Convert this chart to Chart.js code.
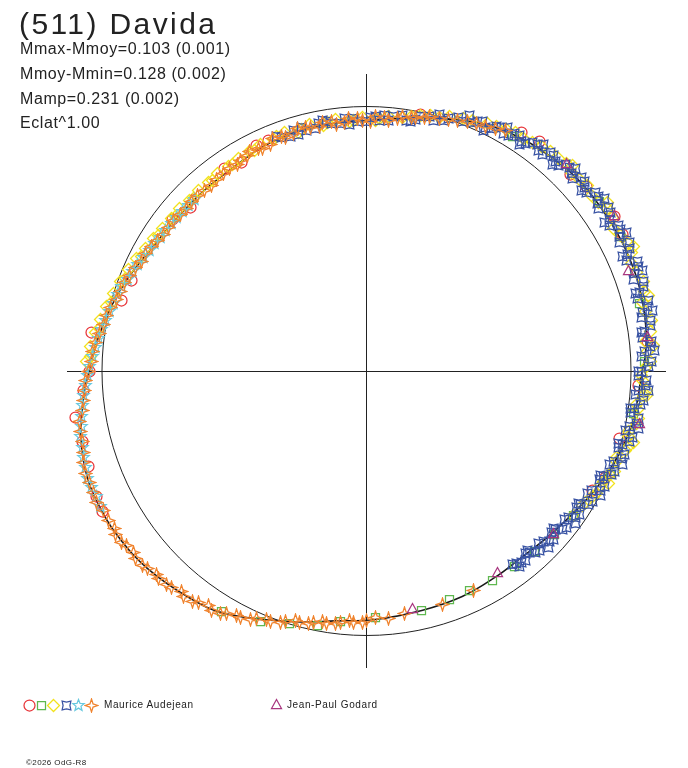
<!DOCTYPE html>
<html lang="en">
<head>
  <meta charset="UTF-8" />
  <title>(511) Davida</title>
  <script src="https://cdn.jsdelivr.net/npm/chart.js"></script>
  <style>
    body { margin: 0; background: #fff; color: #222; font-family: "Liberation Sans", Arial, sans-serif; }
    #wrap { position: relative; width: 688px; height: 768px; overflow: hidden; }
    #plot { position: absolute; left: 0; top: 0; }
    .title { position: absolute; left: 19px; top: 9px; font-size: 30px; line-height: 30px; letter-spacing: 2.4px; white-space: nowrap; }
    .info { position: absolute; left: 20px; font-size: 16px; line-height: 16px; letter-spacing: 0.6px; white-space: nowrap; }
    .lbl { position: absolute; top: 700px; font-size: 10px; line-height: 10px; letter-spacing: 0.6px; white-space: nowrap; }
    .mk { position: absolute; }
    .copy { position: absolute; left: 26px; top: 759px; font-size: 8px; line-height: 8px; letter-spacing: 0.4px; white-space: nowrap; }
  </style>
</head>
<body>
  <div id="wrap">
    <canvas id="plot" width="688" height="768"></canvas>
    <div class="title">(511) Davida</div>
    <div class="info" style="top:41px">Mmax-Mmoy=0.103 (0.001)</div>
    <div class="info" style="top:66px">Mmoy-Mmin=0.128 (0.002)</div>
    <div class="info" style="top:91px">Mamp=0.231 (0.002)</div>
    <div class="info" style="top:115px">Eclat^1.00</div>
    <div class="lbl" style="left:104px">Maurice Audejean</div>
    <div class="lbl" style="left:287px">Jean-Paul Godard</div>
    <div class="copy">©2026 OdG-R8</div>
  </div>

  <script>
    // phase in degrees, clockwise from the top; radius relative to the mean circle
    const refRadius = 1;

    const fitPhase = [0, 5, 20, 31, 43, 52, 62, 70, 76, 82, 87, 90, 100, 108, 116, 123, 132, 141, 148, 157, 167, 178, 187, 196, 210, 218, 228, 236, 242, 249, 257, 265, 270, 277, 284, 291, 300, 309, 318, 327, 336, 345, 352];
    const fitRadius = [0.947, 0.957, 1.011, 1.050, 1.072, 1.080, 1.082, 1.081, 1.076, 1.068, 1.055, 1.042, 1.026, 1.006, 0.979, 0.954, 0.930, 0.916, 0.919, 0.926, 0.929, 0.940, 0.952, 0.986, 1.060, 1.088, 1.115, 1.128, 1.132, 1.130, 1.108, 1.073, 1.049, 1.022, 0.996, 0.969, 0.935, 0.921, 0.918, 0.920, 0.935, 0.943, 0.945];

    const redPhase = [12, 33, 37, 46, 50, 58, 62, 84, 93, 105, 114, 118, 242, 245, 251, 256, 261, 266, 270, 278, 286, 291, 308, 313, 325, 329, 334, 337];
    const redRadius = [0.990, 1.073, 1.085, 1.071, 1.086, 1.105, 1.097, 1.070, 1.028, 0.990, 0.990, 0.966, 1.130, 1.125, 1.111, 1.105, 1.113, 1.071, 1.049, 1.051, 0.965, 0.950, 0.930, 0.908, 0.933, 0.918, 0.948, 0.945];

    const greenPhase = [32, 54, 62, 76, 88, 99, 113, 125, 131, 137, 143, 149, 155, 160, 167, 178, 186, 191, 197, 203, 211];
    const greenRadius = [1.045, 1.088, 1.087, 1.062, 1.050, 1.021, 1.002, 0.955, 0.942, 0.932, 0.927, 0.924, 0.917, 0.919, 0.929, 0.934, 0.954, 0.979, 0.998, 1.029, 1.062];

    const yellowPhase = [272, 275, 278, 281, 284, 287, 290, 293, 296, 299, 302, 305, 308, 311, 314, 317, 320, 323, 326, 329, 332, 335, 338, 341, 344, 347, 350, 353, 356, 359, 2, 5, 8, 12, 16, 21, 26, 30, 34, 38, 42, 46, 50, 54, 58, 62, 66, 70, 74, 78, 82, 86, 89, 92, 95, 98, 101, 104, 107, 110, 113, 116, 119, 122, 125,
      273, 279, 285, 291, 297, 303, 309, 315, 321, 327, 333, 339, 345, 351, 357, 3, 10, 14, 18, 23, 28, 32, 36, 40, 44, 48, 52, 56, 60, 64, 68, 72, 76, 80, 84, 88, 91, 94, 97, 100, 103, 106, 109, 112, 115, 118, 121,
      45, 55, 65, 75, 85, 95, 105, 115];
    const yellowRadius = [1.060, 1.048, 1.036, 1.026, 1.012, 1.000, 0.988, 0.978, 0.966, 0.956, 0.948, 0.942, 0.935, 0.936, 0.930, 0.934, 0.930, 0.935, 0.932, 0.938, 0.942, 0.945, 0.942, 0.952, 0.938, 0.955, 0.942, 0.958, 0.945, 0.960, 0.948, 0.965, 0.968, 0.988, 0.998, 1.022, 1.040, 1.055, 1.062, 1.075, 1.082, 1.078, 1.092, 1.085, 1.095, 1.088, 1.098, 1.085, 1.092, 1.080, 1.085, 1.065, 1.060, 1.045, 1.050, 1.035, 1.038, 1.020, 1.022, 1.005, 1.000, 0.985, 0.975, 0.962, 0.955,
      1.045, 1.022, 0.998, 0.975, 0.955, 0.938, 0.928, 0.924, 0.925, 0.930, 0.935, 0.950, 0.945, 0.950, 0.950, 0.955, 0.978, 0.995, 1.012, 1.030, 1.045, 1.062, 1.070, 1.085, 1.090, 1.082, 1.078, 1.100, 1.080, 1.102, 1.082, 1.100, 1.075, 1.095, 1.060, 1.075, 1.040, 1.060, 1.030, 1.045, 1.015, 1.030, 1.000, 1.010, 0.990, 0.985, 0.965,
      1.100, 1.110, 1.112, 1.105, 1.090, 1.062, 1.045, 1.008];

    const bluePhase = [339, 342, 345, 348, 351, 354, 357, 0, 2, 5, 8, 11, 14, 17, 20, 23, 25, 27, 29, 31, 33, 35, 37, 39, 41, 43, 45, 47, 49, 51, 53, 55, 57, 59, 61, 63, 65, 67, 69, 71, 73, 75, 77, 79, 81, 83, 85, 87, 89, 91, 93, 95, 97, 99, 101, 103, 105, 107, 109, 111, 113, 115, 117, 119, 121, 123, 125, 127, 129, 131, 133, 135, 137, 139, 141, 143,
      340, 343, 346, 349, 352, 355, 358, 1, 3, 6, 9, 12, 15, 18, 21, 24, 26, 28, 30, 32, 34, 36, 38, 40, 42, 44, 46, 48, 50, 52, 54, 56, 58, 60, 62, 64, 66, 68, 70, 72, 74, 76, 78, 80, 82, 84, 86, 88, 90, 92, 94, 96, 98, 100, 102, 104, 106, 108, 110, 112, 114, 116, 118, 120, 122, 124, 126, 128, 130, 132, 134, 136, 138, 140, 142,
      344, 350, 356, 4, 10, 16, 22, 26, 30, 34, 38, 42, 46, 50, 54, 58, 62, 66, 70, 74, 78, 82, 86, 90, 94, 98, 102, 106, 110, 114, 118, 122, 126, 130, 134, 138, 142];
    const blueRadius = [0.948, 0.932, 0.952, 0.936, 0.956, 0.940, 0.955, 0.942, 0.962, 0.950, 0.975, 0.968, 0.992, 0.990, 1.018, 1.020, 1.040, 1.030, 1.052, 1.040, 1.062, 1.050, 1.072, 1.055, 1.078, 1.062, 1.088, 1.066, 1.092, 1.070, 1.096, 1.072, 1.098, 1.070, 1.100, 1.072, 1.098, 1.068, 1.100, 1.068, 1.095, 1.062, 1.092, 1.058, 1.088, 1.050, 1.078, 1.040, 1.065, 1.030, 1.055, 1.020, 1.045, 1.012, 1.038, 1.005, 1.028, 0.995, 1.018, 0.985, 1.005, 0.970, 0.992, 0.955, 0.978, 0.945, 0.965, 0.935, 0.955, 0.928, 0.945, 0.920, 0.938, 0.915, 0.930, 0.918,
      0.940, 0.950, 0.938, 0.952, 0.945, 0.958, 0.944, 0.958, 0.948, 0.968, 0.960, 0.985, 0.982, 1.005, 1.010, 1.032, 1.025, 1.048, 1.035, 1.058, 1.048, 1.068, 1.058, 1.080, 1.068, 1.085, 1.075, 1.095, 1.078, 1.098, 1.080, 1.105, 1.082, 1.102, 1.085, 1.108, 1.080, 1.105, 1.078, 1.100, 1.075, 1.098, 1.068, 1.092, 1.062, 1.085, 1.055, 1.078, 1.040, 1.060, 1.032, 1.052, 1.025, 1.045, 1.015, 1.035, 1.005, 1.025, 0.995, 1.012, 0.980, 1.000, 0.965, 0.985, 0.955, 0.972, 0.945, 0.960, 0.935, 0.952, 0.928, 0.942, 0.922, 0.935, 0.924,
      0.930, 0.960, 0.935, 0.970, 0.958, 1.008, 1.040, 1.010, 1.065, 1.035, 1.088, 1.050, 1.100, 1.060, 1.112, 1.062, 1.115, 1.060, 1.112, 1.058, 1.105, 1.048, 1.090, 1.030, 1.068, 1.008, 1.052, 0.992, 1.030, 0.968, 1.000, 0.945, 0.978, 0.925, 0.958, 0.912, 0.940];

    const cyanPhase = [243, 247, 251, 255, 259, 263, 267, 271, 275, 279, 283, 287, 291, 295, 299, 303, 307, 311, 315,
      245, 249, 253, 257, 261, 265, 269, 273, 277, 281, 285, 289, 293, 297, 301, 305, 309, 313];
    const cyanRadius = [1.130, 1.128, 1.122, 1.112, 1.098, 1.082, 1.062, 1.046, 1.030, 1.014, 0.996, 0.985, 0.968, 0.955, 0.940, 0.930, 0.925, 0.920, 0.918,
      1.125, 1.130, 1.118, 1.108, 1.090, 1.075, 1.055, 1.038, 1.022, 1.005, 0.992, 0.978, 0.962, 0.948, 0.935, 0.928, 0.922, 0.919];

    const orangePhase = [328, 331, 334, 337, 340, 343, 346, 349, 352, 355, 358, 1, 4, 7, 10, 13, 16, 20, 24, 28,
      240, 244, 248, 252, 256, 260, 264, 268, 272, 276, 280, 284, 288, 292, 296, 300, 304, 308, 312, 316, 320, 324,
      154, 162, 171, 175, 178, 181, 184, 187, 190, 193, 196, 199, 202, 205, 208, 211, 214, 217, 220, 223, 226, 229, 232, 235, 238,
      329, 332, 335, 338, 341, 344, 347, 350, 353, 356, 359, 2, 5, 8, 11, 14, 18, 22, 26, 30,
      242, 246, 250, 254, 258, 262, 266, 270, 274, 278, 282, 286, 290, 294, 298, 302, 306, 310, 314, 318, 322, 326,
      180, 183, 186, 189, 192, 195, 198, 201, 204, 207, 210, 213, 216, 219, 222, 225, 228, 231, 234, 237];
    const orangeRadius = [0.922, 0.930, 0.935, 0.932, 0.945, 0.938, 0.950, 0.940, 0.952, 0.942, 0.955, 0.945, 0.960, 0.962, 0.975, 0.982, 0.995, 1.008, 1.025, 1.040,
      1.128, 1.135, 1.128, 1.125, 1.108, 1.100, 1.075, 1.062, 1.040, 1.030, 1.008, 0.998, 0.978, 0.968, 0.948, 0.940, 0.926, 0.924, 0.916, 0.922, 0.914, 0.922,
      0.922, 0.928, 0.930, 0.940, 0.934, 0.950, 0.946, 0.962, 0.960, 0.978, 0.980, 1.004, 1.012, 1.038, 1.045, 1.070, 1.070, 1.090, 1.088, 1.106, 1.105, 1.122, 1.116, 1.130, 1.124,
      0.928, 0.940, 0.928, 0.948, 0.935, 0.952, 0.944, 0.955, 0.938, 0.958, 0.948, 0.962, 0.952, 0.972, 0.978, 0.992, 1.000, 1.018, 1.030, 1.048,
      1.125, 1.130, 1.132, 1.115, 1.105, 1.085, 1.070, 1.050, 1.038, 1.018, 1.005, 0.985, 0.975, 0.958, 0.945, 0.932, 0.925, 0.920, 0.920, 0.918, 0.920, 0.925,
      0.944, 0.952, 0.955, 0.968, 0.972, 0.985, 0.995, 1.015, 1.025, 1.048, 1.058, 1.078, 1.082, 1.098, 1.100, 1.112, 1.115, 1.125, 1.122, 1.132];

    const purplePhase = [44, 58, 69, 83, 101, 131, 147, 169];
    const purpleRadius = [1.090, 1.107, 1.063, 1.072, 1.050, 0.939, 0.910, 0.914];

    const colors = {
      red: '#e8363a', green: '#5fb84f', yellow: '#f2e21c', blue: '#3a54a4',
      cyan: '#68c9df', orange: '#f0842f', purple: '#a8367f', line: '#1a1a1a'
    };

    function toXY(phases, radii) {
      return phases.map((p, i) => {
        const a = p * Math.PI / 180;
        return { x: radii[i] * Math.sin(a), y: radii[i] * Math.cos(a) };
      });
    }

    function starPath(g, n, ro, ri, rot) {
      for (let i = 0; i < 2 * n; i++) {
        const r = i % 2 ? ri : ro;
        const a = rot + i * Math.PI / n;
        g.lineTo(7.5 + r * Math.sin(a), 7.5 - r * Math.cos(a));
      }
      g.closePath();
    }

    function marker(shape, color) {
      const c = document.createElement('canvas');
      c.width = 15; c.height = 15;
      const g = c.getContext('2d');
      g.strokeStyle = color;
      g.lineWidth = 1.25;
      g.beginPath();
      if (shape === 'circle') g.arc(7.5, 7.5, 5.5, 0, Math.PI * 2);
      else if (shape === 'square') g.rect(3.5, 3.5, 8, 8);
      else if (shape === 'diamond') starPath(g, 4, 6, 4.25, 0);
      else if (shape === 'quad') starPath(g, 4, 6.2, 3.4, Math.PI / 4);
      else if (shape === 'star5') starPath(g, 5, 6, 2.6, 0);
      else if (shape === 'star4') starPath(g, 4, 6.5, 2.2, 0);
      else if (shape === 'triangle') { g.moveTo(7.5, 2.5); g.lineTo(12.5, 11.5); g.lineTo(2.5, 11.5); g.closePath(); }
      g.stroke();
      return c;
    }

    function points(phases, radii, shape, color) {
      return {
        data: toXY(phases, radii),
        pointStyle: marker(shape, color),
        pointRadius: 6,
        showLine: false
      };
    }

    // close the loop so the spline has no kink at the top
    const fitData = toXY(fitPhase.concat([fitPhase[0] + 360, fitPhase[1] + 360]),
                         fitRadius.concat([fitRadius[0], fitRadius[1]]));

    const frame = {
      id: 'frame',
      beforeDatasetsDraw(chart) {
        const { ctx, chartArea: a, scales: { x, y } } = chart;
        const cx = x.getPixelForValue(0), cy = y.getPixelForValue(0);
        const rx = x.getPixelForValue(refRadius) - cx;
        const ry = cy - y.getPixelForValue(refRadius);
        const px = Math.floor(cx) + 0.5, py = Math.floor(cy) + 0.5;
        ctx.save();
        ctx.strokeStyle = '#222';
        ctx.lineWidth = 1;
        ctx.beginPath();
        ctx.moveTo(a.left, py); ctx.lineTo(a.right, py);
        ctx.moveTo(px, a.top); ctx.lineTo(px, a.bottom);
        ctx.stroke();
        ctx.beginPath();
        ctx.ellipse(cx, cy, rx, ry, 0, 0, Math.PI * 2);
        ctx.stroke();
        ctx.restore();
        ctx.imageSmoothingEnabled = false;
      }
    };

    new Chart(document.getElementById('plot'), {
      type: 'scatter',
      data: {
        datasets: [
          points(purplePhase, purpleRadius, 'triangle', colors.purple),
          points(orangePhase, orangeRadius, 'star4', colors.orange),
          points(cyanPhase, cyanRadius, 'star5', colors.cyan),
          points(bluePhase, blueRadius, 'quad', colors.blue),
          points(yellowPhase, yellowRadius, 'diamond', colors.yellow),
          points(greenPhase, greenRadius, 'square', colors.green),
          points(redPhase, redRadius, 'circle', colors.red),
          { data: fitData, showLine: true, borderColor: colors.line, borderWidth: 1.6, pointRadius: 0, tension: 0.4, fill: false }
        ]
      },
      options: {
        responsive: false,
        animation: false,
        layout: { padding: { left: 67, right: 22, top: 74, bottom: 100 } },
        plugins: { legend: { display: false }, tooltip: { enabled: false } },
        scales: {
          x: { type: 'linear', display: false, min: -1.1323, max: 1.1323 },
          y: { type: 'linear', display: false, min: -1.1229, max: 1.1229 }
        }
      },
      plugins: [frame]
    });

    // legend symbols
    const wrap = document.getElementById('wrap');
    [['circle', colors.red, 29], ['square', colors.green, 41.5], ['diamond', colors.yellow, 53.5],
     ['quad', colors.blue, 66], ['star5', colors.cyan, 78.3], ['star4', colors.orange, 91],
     ['triangle', colors.purple, 276.3]].forEach(([shape, color, cx]) => {
      const c = marker(shape, color);
      c.className = 'mk';
      c.style.left = Math.round(cx - 7.5) + 'px';
      c.style.top = (shape === 'triangle' ? 697 : 698) + 'px';
      wrap.appendChild(c);
    });
  </script>
</body>
</html>
